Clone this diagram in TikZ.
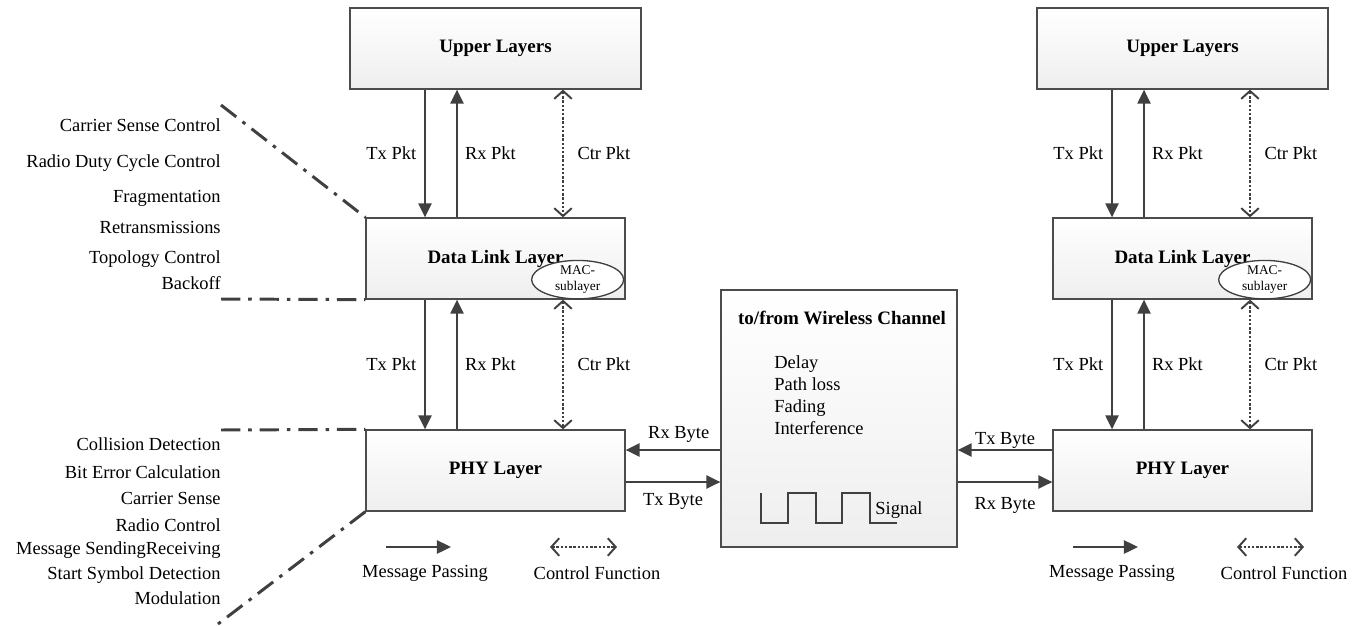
\documentclass[tikz,border=0pt]{standalone}
\usepackage{fontspec}
\setmainfont{Liberation Serif}
\usetikzlibrary{arrows.meta,positioning,calc,shapes.geometric}

\begin{document}
\begin{tikzpicture}[
    x=0.02cm, y=-0.02cm,
    box/.style={rectangle, draw=black!70, line width=0.75pt, top color=white, bottom color=gray!13, minimum height=1.62cm, font=\fontsize{10.8}{13}\selectfont\bfseries},
    head/.style={inner sep=0pt, font=\fontsize{10.8}{13}\selectfont\bfseries},
    lbl/.style={inner sep=0pt, font=\fontsize{10.5}{12.5}\selectfont},
    msg/.style={draw=black!75, line width=1.1pt, -{Triangle[length=8pt,width=7.5pt]}},
    ctrl/.style={draw=black!75, line width=1.5pt, dash pattern=on 1.4pt off 1pt, {Straight Barb[length=4.5pt,width=10pt,line width=1.1pt]}-{Straight Barb[length=4.5pt,width=10pt,line width=1.1pt]}},
    mac/.style={ellipse, draw=black!75, line width=0.75pt, fill=white, minimum width=1.84cm, minimum height=0.72cm, inner sep=0pt, align=center, font=\fontsize{7.6}{8.8}\selectfont},
    bracket/.style={draw=black!75, line width=1.7pt, dash pattern=on 11pt off 4.5pt on 2pt off 4.5pt},
]
    \useasboundingbox (0,0) rectangle (1364,625);

    % the two protocol stacks
    \foreach \s/\cx in {L/495.5, R/1182.5} {
        \node[box, minimum width=5.82cm] (up\s) at (\cx,48.5) {Upper Layers};
        \node[box, minimum width=5.18cm] (dl\s) at (\cx,258.5) {Data Link Layer};
        \node[box, minimum width=5.18cm] (phy\s) at (\cx,470.5) {PHY Layer};
        \node[mac] (mac\s) at ($(dl\s.south east)+(-48,-20)$) {MAC-\\sublayer};

        \foreach \a/\b in {up/dl, dl/phy} {
            \draw[msg] ($(\a\s.south)+(-70.5,0)$) -- node[lbl, left=4.5pt] (tx\a\s) {Tx Pkt} ($(\b\s.north)+(-70.5,0)$);
            \draw[msg] ($(\b\s.north)+(-38.5,0)$) -- node[lbl, right=4pt] (rx\a\s) {Rx Pkt} ($(\a\s.south)+(-38.5,0)$);
            \draw[ctrl] ($(\a\s.south)+(67.5,0)$) -- node[lbl, right=7.5pt] (ct\a\s) {Ctr Pkt} ($(\b\s.north)+(67.5,0)$);
        }

        % legend
        \node[lbl] (mp\s) at (\cx-70.5,573) {Message Passing};
        \node[lbl] (cf\s) at (\cx+101.5,573) {Control Function};
        \coordinate (mpa\s) at ($(mp\s)+(-39,-26)$);
        \coordinate (mpb\s) at ($(mp\s)+(26,-26)$);
        \coordinate (cfa\s) at ($(cf\s)+(-47,-26)$);
        \coordinate (cfb\s) at ($(cf\s)+(20,-26)$);
        \draw[msg] (mpa\s) -- (mpb\s);
        \draw[ctrl] (cfa\s) -- (cfb\s);
    }

    % wireless channel
    \node[box, minimum width=4.72cm, minimum height=5.14cm] (chan) at (839,418.5) {};
    \node[head] (chtitle) at ($(chan.north)+(3,29)$) {to/from Wireless Channel};
    \node[lbl, align=left, anchor=north west] (effects) at (774,355) {Delay\\Path loss\\Fading\\Interference};
    \draw[black!75, line width=1.1pt] (761,493) -- (761,523) -- (788,523) -- (788,493) -- (816,493) -- (816,523)
        -- (842,523) -- (842,493) -- (870,493) -- (870,523) -- (897,523);
    \node[lbl] (sig) at (899,510) {Signal};

    \draw[msg] (chan.west |- 0,450) -- node[lbl, above=4pt, pos=0.44] (rxbL) {Rx Byte} (phyL.east |- 0,450);
    \draw[msg] (phyL.east |- 0,482) -- node[lbl, below=6pt] (txbL) {Tx Byte} (chan.west |- 0,482);
    \draw[msg] (phyR.west |- 0,450) -- node[lbl, above=0.5pt] (txbR) {Tx Byte} (chan.east |- 0,450);
    \draw[msg] (chan.east |- 0,482) -- node[lbl, below=8pt] (rxbR) {Rx Byte} (phyR.west |- 0,482);

    % functions of the data link layer
    \foreach \t/\y [count=\i] in {Carrier Sense Control/127, Radio Duty Cycle Control/162, Fragmentation/197,
        Retransmissions/228, Topology Control/258, Backoff/284}
        \node[lbl, anchor=base east] (dlf\i) at (221,\y+5) {\t};
    % functions of the PHY layer
    \foreach \t/\y [count=\i] in {Collision Detection/445, Bit Error Calculation/473, Carrier Sense/499,
        Radio Control/526, Message SendingReceiving/549, Start Symbol Detection/574, Modulation/599}
        \node[lbl, anchor=base east] (phf\i) at (221,\y+5) {\t};

    \coordinate (dlu) at (221,105);
    \coordinate (dld) at (221,299);
    \coordinate (phu) at (221,430);
    \coordinate (phd) at (218,624);
    \draw[bracket] (dlu) -- (dlL.north west);
    \draw[bracket] (dld) -- (dlL.south west);
    \draw[bracket] (phu) -- (phyL.north west);
    \draw[bracket] (phyL.south west) -- (phd);
\end{tikzpicture}
\end{document}
